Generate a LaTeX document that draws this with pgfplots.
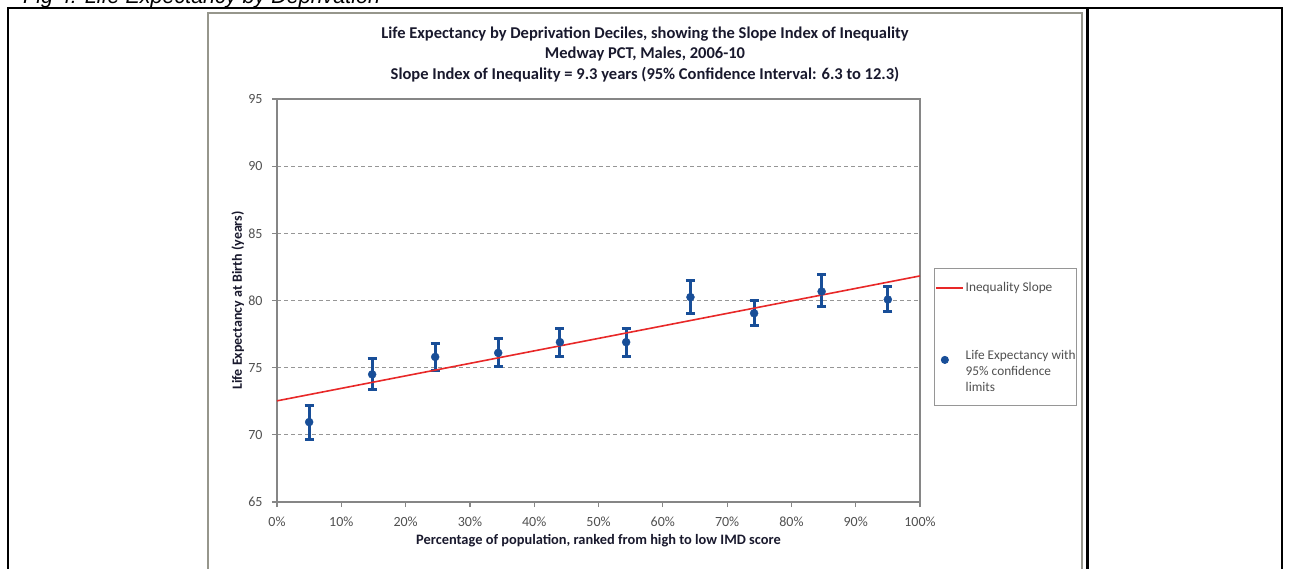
\documentclass[border=0pt]{standalone}
\usepackage{fontspec}
\setmainfont{Carlito}
\newfontfamily\arialfont{Liberation Sans}
\usepackage{pgfplots}
\usepackage{pgfplotstable}
\pgfplotsset{compat=1.18}
\definecolor{ptblue}{RGB}{24,78,152}
\definecolor{slopered}{RGB}{232,40,40}
\definecolor{axgray}{RGB}{134,134,134}
\definecolor{gridgray}{RGB}{150,150,150}
\definecolor{tickgray}{RGB}{80,80,80}
\definecolor{framegray}{RGB}{150,150,140}
\definecolor{titlecol}{RGB}{25,25,45}

\pgfplotstableread{
x    y     ep   em
5.0  70.95 1.25 1.30
14.8 74.5  1.2  1.1
24.6 75.8  1.0  1.0
34.4 76.1  1.1  1.0
44.0 76.9  1.0  1.1
54.3 76.9  1.0  1.05
64.3 80.25 1.25 1.2
74.2 79.05 0.95 0.92
84.7 80.67 1.23 1.12
95.0 80.07 0.97 0.87
}\lifeexp

\pgfplotstableread{
x   y
0   72.53
100 81.83
}\slope

\begin{document}
\begin{tikzpicture}
\useasboundingbox (0,0) rectangle (1290pt,-569pt);
\clip (0,0) rectangle (1290pt,-569pt);
% document heading (cut off at top)
\node[anchor=base west, inner sep=0pt] at (23pt,-3.5pt) {\arialfont\itshape\fontsize{21.5}{24}\selectfont Fig 4: Life Expectancy by Deprivation};
% table rules
\draw[line width=2pt] (7pt,-8pt) -- (1283pt,-8pt);
\draw[line width=2pt] (8pt,-8pt) -- (8pt,-575pt);
\draw[line width=3pt] (1087pt,-8pt) -- (1087pt,-575pt);
\draw[line width=2pt] (1282pt,-8pt) -- (1282pt,-575pt);
% chart frame
\draw[line width=1.5pt, framegray] (208pt,-13pt) rectangle (1082pt,-590pt);
% titles
\node[titlecol, font=\bfseries\fontsize{16.5}{18}\selectfont] at (645pt,-34.5pt) {Life Expectancy by Deprivation Deciles, showing the Slope Index of Inequality};
\node[titlecol, font=\bfseries\fontsize{16.5}{18}\selectfont] at (645pt,-54.5pt) {Medway PCT, Males, 2006-10};
\node[titlecol, font=\bfseries\fontsize{16.5}{18}\selectfont] at (645pt,-74.5pt) {Slope Index of Inequality = 9.3 years (95\% Confidence Interval: 6.3 to 12.3)};

\begin{axis}[
  at={(277pt,-502pt)}, anchor=south west,
  scale only axis, width=643pt, height=403pt,
  xmin=0, xmax=100, ymin=65, ymax=95,
  xtick={0,10,...,100},
  xticklabels={0\%,10\%,20\%,30\%,40\%,50\%,60\%,70\%,80\%,90\%,100\%},
  ytick={65,70,...,95},
  /pgf/number format/assume math mode=true,
  ymajorgrids, grid style={gridgray, line width=0.8pt, dash pattern=on 4pt off 3pt},
  axis line style={axgray, line width=1.2pt},
  tick style={axgray, line width=1.2pt},
  tick pos=left, tick align=outside, major tick length=5pt,
  ticklabel style={tickgray, font=\fontsize{14}{16}\selectfont},
  xticklabel style={yshift=-6pt},
  yticklabel style={xshift=-6pt},
  xlabel={Percentage of population, ranked from high to low IMD score},
  ylabel={Life Expectancy at Birth (years)},
  xlabel style={titlecol, font=\bfseries\fontsize{14.4}{16}\selectfont, at={(axis description cs:0.5,-0.097)}, anchor=center},
  ylabel style={titlecol, font=\bfseries\fontsize{14}{16}\selectfont, at={(axis description cs:-0.061,0.5)}, anchor=center},
  clip=false,
  legend cell align=left,
  legend style={at={(1.0218,0.5806)}, anchor=north west, draw=gridgray, line width=0.8pt,
    font=\fontsize{13.3}{16}\selectfont, inner xsep=1pt, inner ysep=7pt, row sep=0pt,
    cells={anchor=base west},
    nodes={inner sep=0pt, text height=10pt, text depth=6pt, text=tickgray}},
]
\addlegendimage{legend image code/.code={\draw[draw=slopered, line width=1.8pt] (0pt,0.8ex) -- (27pt,0.8ex);}}
\addlegendentry[text height=16.5pt, text depth=58pt]{\kern1.5pt Inequality Slope}
\addlegendimage{only marks, mark=*, mark size=3.6pt, ptblue, draw=ptblue, fill=ptblue}
\addlegendentry{\kern1.5pt Life Expectancy with}
\addlegendimage{empty legend}
\addlegendentry{\kern1.5pt 95\% confidence}
\addlegendimage{empty legend}
\addlegendentry{\kern1.5pt limits}

\addplot[forget plot, only marks, mark=*, mark size=4pt, color=ptblue,
  error bars/.cd, y dir=both, y explicit,
  error bar style={line width=3pt, ptblue},
  error mark options={rotate=90, mark size=4.5pt, line width=3pt, ptblue},
] table[x=x, y=y, y error plus=ep, y error minus=em] {\lifeexp};
\addplot[forget plot, slopered, line width=1.6pt, no marks] table[x=x, y=y] {\slope};
\end{axis}
\end{tikzpicture}
\end{document}
